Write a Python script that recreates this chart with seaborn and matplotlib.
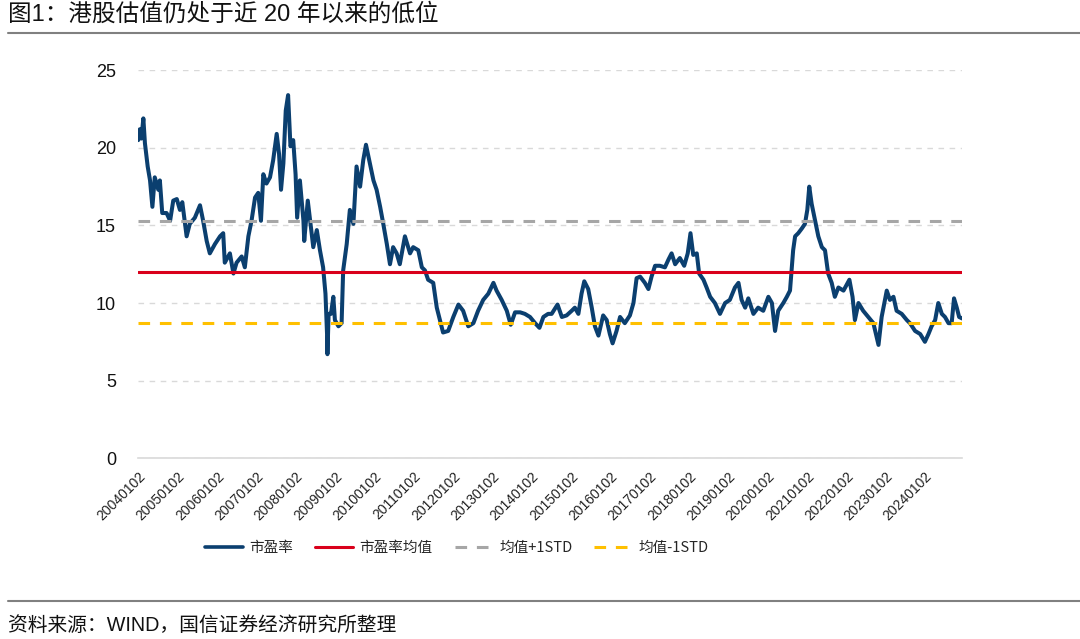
import matplotlib
matplotlib.use("Agg")
import matplotlib.pyplot as plt
from matplotlib.lines import Line2D
import seaborn as sns
import pandas as pd

# ---------------- data ----------------
years = [
    2004.00, 2004.04, 2004.08, 2004.13, 2004.17, 2004.24, 2004.30, 2004.36, 2004.42, 2004.51,
    2004.55, 2004.61, 2004.72, 2004.81, 2004.89, 2004.98, 2005.06, 2005.12, 2005.23, 2005.31,
    2005.44, 2005.57, 2005.65, 2005.74, 2005.82, 2005.95, 2006.08, 2006.16, 2006.20, 2006.33,
    2006.42, 2006.50, 2006.63, 2006.71, 2006.80, 2006.88, 2006.97, 2007.05, 2007.12, 2007.18,
    2007.26, 2007.35, 2007.43, 2007.52, 2007.58, 2007.63, 2007.69, 2007.75, 2007.81, 2007.87,
    2007.94, 2008.00, 2008.04, 2008.11, 2008.20, 2008.22, 2008.31, 2008.37, 2008.45, 2008.54,
    2008.62, 2008.70, 2008.76, 2008.80, 2008.81, 2008.84, 2008.90, 2008.96, 2009.00, 2009.09,
    2009.17, 2009.21, 2009.30, 2009.38, 2009.47, 2009.55, 2009.64, 2009.72, 2009.79, 2009.89,
    2009.98, 2010.06, 2010.15, 2010.23, 2010.32, 2010.40, 2010.48, 2010.57, 2010.65, 2010.78,
    2010.91, 2010.99, 2011.12, 2011.21, 2011.29, 2011.37, 2011.50, 2011.59, 2011.67, 2011.75,
    2011.88, 2012.01, 2012.14, 2012.26, 2012.39, 2012.52, 2012.64, 2012.77, 2012.90, 2013.03,
    2013.11, 2013.24, 2013.37, 2013.47, 2013.58, 2013.71, 2013.83, 2013.96, 2014.09, 2014.20,
    2014.30, 2014.42, 2014.51, 2014.66, 2014.77, 2014.89, 2015.02, 2015.10, 2015.19, 2015.27,
    2015.34, 2015.44, 2015.53, 2015.61, 2015.70, 2015.82, 2015.91, 2015.99, 2016.06, 2016.16,
    2016.25, 2016.37, 2016.50, 2016.59, 2016.67, 2016.76, 2016.88, 2016.97, 2017.05, 2017.14,
    2017.26, 2017.39, 2017.48, 2017.56, 2017.65, 2017.77, 2017.88, 2017.97, 2018.04, 2018.11,
    2018.20, 2018.26, 2018.37, 2018.45, 2018.54, 2018.66, 2018.79, 2018.92, 2019.04, 2019.17,
    2019.26, 2019.34, 2019.43, 2019.51, 2019.64, 2019.76, 2019.89, 2020.02, 2020.11, 2020.19,
    2020.27, 2020.40, 2020.49, 2020.57, 2020.65, 2020.70, 2020.78, 2020.87, 2020.95, 2021.01,
    2021.06, 2021.12, 2021.21, 2021.29, 2021.38, 2021.46, 2021.54, 2021.63, 2021.71, 2021.80,
    2021.93, 2022.08, 2022.16, 2022.22, 2022.31, 2022.43, 2022.56, 2022.69, 2022.82, 2022.90,
    2023.03, 2023.11, 2023.20, 2023.28, 2023.41, 2023.54, 2023.62, 2023.75, 2023.88, 2024.00,
    2024.09, 2024.17, 2024.26, 2024.34, 2024.43, 2024.51, 2024.60, 2024.68, 2024.74, 2024.81,
    2024.87, 2024.95,
]
pe = [
    20.5, 21.2, 20.6, 21.9, 20.3, 18.8, 17.9, 16.2, 18.1, 17.3,
    17.9, 15.8, 15.8, 15.3, 16.6, 16.7, 16.0, 16.5, 14.3, 15.1,
    15.5, 16.3, 15.3, 14.0, 13.2, 13.8, 14.3, 14.5, 12.6, 13.2,
    11.9, 12.6, 13.0, 12.3, 14.3, 15.3, 16.8, 17.1, 15.3, 18.3,
    17.7, 18.1, 19.2, 20.9, 19.6, 17.3, 19.0, 22.4, 23.4, 20.1,
    20.5, 18.3, 15.5, 17.9, 15.3, 14.0, 16.6, 15.3, 13.6, 14.7,
    13.4, 12.3, 10.6, 8.0, 6.7, 9.3, 9.3, 10.4, 8.9, 8.5,
    8.7, 12.1, 13.8, 16.0, 15.1, 18.8, 17.5, 19.2, 20.2, 19.0,
    17.9, 17.3, 16.2, 15.1, 13.8, 12.5, 13.6, 13.2, 12.5, 14.3,
    13.2, 13.6, 13.4, 12.3, 12.1, 11.5, 11.3, 9.7, 8.9, 8.1,
    8.2, 9.1, 9.9, 9.5, 8.5, 8.7, 9.5, 10.2, 10.6, 11.3,
    10.8, 10.2, 9.5, 8.6, 9.4, 9.4, 9.3, 9.1, 8.7, 8.4,
    9.1, 9.3, 9.3, 9.9, 9.1, 9.2, 9.5, 9.7, 9.3, 10.6,
    11.4, 10.9, 9.7, 8.5, 7.9, 9.2, 8.9, 8.0, 7.4, 8.2,
    9.1, 8.7, 9.2, 10.0, 11.6, 11.7, 11.3, 10.9, 11.7, 12.4,
    12.4, 12.3, 12.8, 13.2, 12.5, 12.9, 12.4, 13.2, 14.5, 13.1,
    13.2, 11.9, 11.5, 11.0, 10.4, 10.0, 9.3, 10.0, 10.2, 11.0,
    11.3, 10.2, 9.7, 10.3, 9.3, 9.7, 9.5, 10.4, 10.0, 8.2,
    9.5, 10.0, 10.4, 10.8, 13.4, 14.3, 14.5, 14.8, 15.1, 16.0,
    17.5, 16.4, 15.3, 14.3, 13.6, 13.4, 11.9, 11.3, 10.4, 11.0,
    10.8, 11.5, 10.4, 8.9, 10.0, 9.5, 9.1, 8.7, 7.3, 9.1,
    10.8, 10.2, 10.4, 9.5, 9.3, 8.9, 8.7, 8.2, 8.0, 7.5,
    8.0, 8.5, 8.9, 10.0, 9.3, 9.1, 8.7, 8.7, 10.3, 9.7,
    9.1, 9.0,
]
pe_mean = 12.0
pe_std = 3.29
tick_years = list(range(2004, 2025))
tick_labels = [f"{y}0102" for y in tick_years]
series_names = ["市盈率", "市盈率均值", "均值+1STD", "均值-1STD"]
title_text = "图1：港股估值仍处于近 20 年以来的低位"
source_text = "资料来源：WIND，国信证券经济研究所整理"

# ---------------- styling ----------------
sns.set_theme(style="white")
plt.rcParams["font.family"] = ["Liberation Sans", "Noto Sans CJK SC", "DejaVu Sans"]

NAVY = "#0B3F6F"
RED = "#D9001B"
GRAY = "#A6A6A6"
YELLOW = "#FFC000"
GRID = "#D9D9D9"

df = pd.DataFrame({"year": years, "pe": pe})

fig = plt.figure(figsize=(10.8, 6.39), dpi=100)
ax = fig.add_axes([0.128, 0.283, 0.763, 0.607])

sns.lineplot(data=df, x="year", y="pe", ax=ax, color=NAVY, lw=2.9,
             legend=False, zorder=2)
ax.axhline(pe_mean, color=RED, lw=2.2, zorder=3)
ax.axhline(pe_mean + pe_std, color=GRAY, lw=2.2, ls=(0, (3.8, 3.2)), zorder=3)
ax.axhline(pe_mean - pe_std, color=YELLOW, lw=2.2, ls=(0, (3.8, 3.2)), zorder=3)

ax.set_xlim(2004.0, 2024.95)
ax.set_ylim(0, 25)
ax.set_yticks([0, 5, 10, 15, 20, 25])
ax.set_xticks(tick_years)
ax.set_xticklabels(tick_labels, rotation=45, ha="right", rotation_mode="anchor",
                   fontsize=10, color="#222222")
ax.tick_params(axis="y", length=0, pad=16, labelsize=13, labelcolor="#111111")
ax.tick_params(axis="x", length=5, width=1, color=GRID, direction="out", pad=3)
ax.set_xlabel("")
ax.set_ylabel("")

ax.yaxis.grid(True, color=GRID, lw=1.0, ls=(0, (4, 4)))
ax.xaxis.grid(False)
for s in ["top", "right", "left"]:
    ax.spines[s].set_visible(False)
ax.spines["bottom"].set_color(GRID)
ax.spines["bottom"].set_linewidth(1.2)
ax.set_axisbelow(True)

handles = [
    Line2D([], [], color=NAVY, lw=2.6),
    Line2D([], [], color=RED, lw=2.2),
    Line2D([], [], color=GRAY, lw=2.2, ls=(0, (3.8, 3.2))),
    Line2D([], [], color=YELLOW, lw=2.2, ls=(0, (3.8, 3.2))),
]
fig.legend(handles, series_names, loc="center", bbox_to_anchor=(0.423, 0.142),
           ncol=4, frameon=False, handlelength=2.6,
           handletextpad=0.45, columnspacing=1.5,
           prop={"family": ["Noto Sans CJK SC"], "size": 10.5})

fig.text(0.007, 0.977, title_text, fontsize=17, va="center", ha="left", color="#111111")
fig.add_artist(Line2D([0.007, 1.0], [0.948, 0.948], color="#808080", lw=1.5,
                      transform=fig.transFigure))
fig.add_artist(Line2D([0.007, 1.0], [0.059, 0.059], color="#808080", lw=1.5,
                      transform=fig.transFigure))
fig.text(0.007, 0.022, source_text, fontsize=14.2, va="center", ha="left", color="#111111")

fig.savefig("out.png", dpi=100)
